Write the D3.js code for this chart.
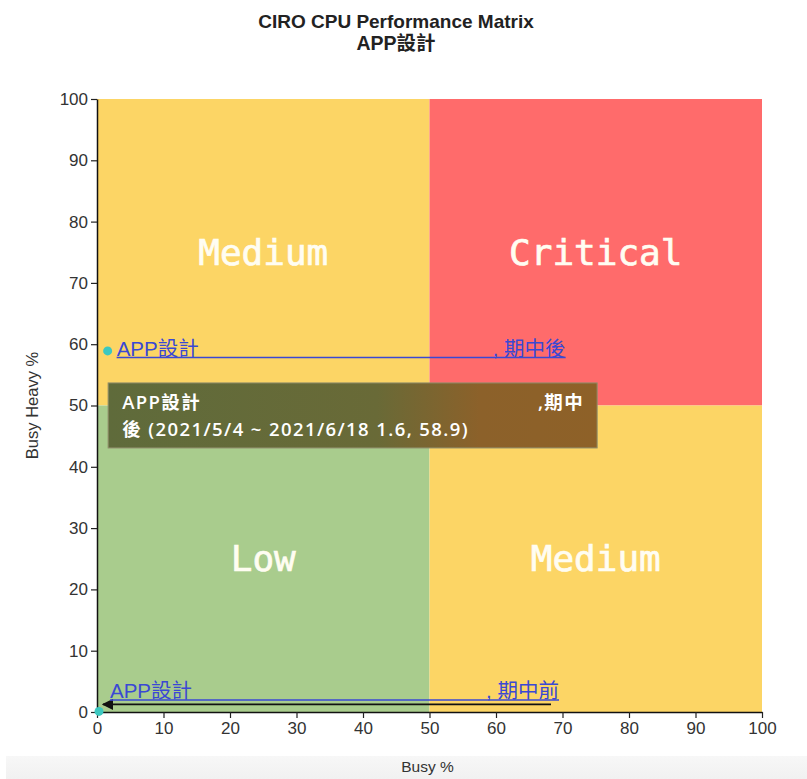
<!DOCTYPE html>
<html>
<head>
<meta charset="utf-8">
<script src="https://cdn.jsdelivr.net/npm/d3@7"></script>
<style>
  html, body { margin: 0; padding: 0; background: #fff; }
  svg { display: block; }
</style>
</head>
<body>
<div id="chart"></div>
<script>
// Chart content
const chartTitle = "CIRO CPU Performance Matrix";
const chartSubtitle = "APP設計";
const xLabel = "Busy %";
const yLabel = "Busy Heavy %";
const xTicks = [0, 10, 20, 30, 40, 50, 60, 70, 80, 90, 100];
const yTicks = [0, 10, 20, 30, 40, 50, 60, 70, 80, 90, 100];

// Quadrant zones: [x0, x1, y0, y1], name, colour
const zoneNames = ["Medium", "Critical", "Low", "Medium"];
const zoneX0 = [0, 50, 0, 50];
const zoneX1 = [50, 100, 50, 100];
const zoneY0 = [50, 50, 0, 0];
const zoneY1 = [100, 100, 50, 50];
const zoneColors = ["#fcd565", "#ff6b6b", "#a9cc8d", "#fcd565"];

// Measured periods for the project
const pointNames = ["APP設計", "APP設計"];
const pointPhases = ["期中前", "期中後"];
const pointPeriods = ["", "2021/5/4 ~ 2021/6/18"];
const busy = [0.3, 1.6];
const busyHeavy = [0.1, 58.9];

const W = 807, H = 779;
const margin = { top: 99, right: 45, bottom: 67, left: 97 };
const iw = W - margin.left - margin.right;
const ih = H - margin.top - margin.bottom;
const sans = "'Liberation Sans', Arial, sans-serif";
const sansCJK = "'Liberation Sans', 'Noto Sans CJK TC', sans-serif";

const svg = d3.select("#chart").append("svg")
  .attr("width", W).attr("height", H);

const defs = svg.append("defs");
defs.append("marker")
  .attr("id", "arrow")
  .attr("viewBox", "0 0 10 10")
  .attr("refX", 9).attr("refY", 5)
  .attr("markerWidth", 7).attr("markerHeight", 7)
  .attr("orient", "auto")
  .append("path").attr("d", "M0,0L10,5L0,10Z").attr("fill", "#111");

const tipGrad = defs.append("linearGradient").attr("id", "tipGrad")
  .attr("x1", "0%").attr("x2", "100%").attr("y1", "0%").attr("y2", "0%");
tipGrad.append("stop").attr("offset", "0%").attr("stop-color", "#5f6b3b");
tipGrad.append("stop").attr("offset", "55%").attr("stop-color", "#696a37");
tipGrad.append("stop").attr("offset", "76%").attr("stop-color", "#8c612a");
tipGrad.append("stop").attr("offset", "100%").attr("stop-color", "#8e6128");

// Light footer strip
const footGrad = defs.append("linearGradient").attr("id", "footGrad")
  .attr("x1", "0%").attr("x2", "0%").attr("y1", "0%").attr("y2", "100%");
footGrad.append("stop").attr("offset", "0%").attr("stop-color", "#f7f7f7");
footGrad.append("stop").attr("offset", "100%").attr("stop-color", "#f1f1f1");
svg.append("rect")
  .attr("x", 6).attr("y", 756).attr("width", W - 6).attr("height", H - 756)
  .attr("fill", "url(#footGrad)");

const g = svg.append("g").attr("transform", `translate(${margin.left},${margin.top})`);

const x = d3.scaleLinear().domain([0, 100]).range([0, iw]);
const y = d3.scaleLinear().domain([0, 100]).range([ih, 0]);

// Quadrants
const zones = zoneNames.map((n, i) => ({
  name: n, x0: zoneX0[i], x1: zoneX1[i], y0: zoneY0[i], y1: zoneY1[i], color: zoneColors[i]
}));
g.selectAll("rect.zone").data(zones).join("rect")
  .attr("class", "zone")
  .attr("x", d => x(d.x0)).attr("y", d => y(d.y1))
  .attr("width", d => x(d.x1) - x(d.x0))
  .attr("height", d => y(d.y0) - y(d.y1))
  .attr("fill", d => d.color);
g.selectAll("text.zone").data(zones).join("text")
  .attr("class", "zone")
  .attr("x", d => x((d.x0 + d.x1) / 2))
  .attr("y", d => y((d.y0 + d.y1) / 2))
  .attr("text-anchor", "middle")
  .attr("dominant-baseline", "central")
  .attr("font-family", "'DejaVu Sans Mono', monospace")
  .attr("font-size", 36)
  .attr("fill", "#fffdf2")
  .attr("stroke", "#fffdf2").attr("stroke-width", 0.7)
  .text(d => d.name);

// Axes
const xAxis = g.append("g").attr("transform", `translate(0,${ih})`)
  .call(d3.axisBottom(x).tickValues(xTicks).tickSizeOuter(0).tickPadding(4));
const yAxis = g.append("g")
  .call(d3.axisLeft(y).tickValues(yTicks).tickSizeOuter(0).tickPadding(3));
[xAxis, yAxis].forEach(a => {
  a.selectAll("text").attr("font-family", sans)
    .attr("font-size", 17).attr("fill", "#333");
  a.selectAll("line").attr("stroke", "#222").attr("stroke-width", 1.2);
  a.select(".domain").attr("stroke", "#111").attr("stroke-width", 1.5);
});

// Axis titles
svg.append("text")
  .attr("x", margin.left + iw / 2 - 2).attr("y", 772)
  .attr("text-anchor", "middle")
  .attr("font-family", sans)
  .attr("font-size", 15.5).attr("fill", "#333")
  .text(xLabel);
svg.append("text")
  .attr("transform", `translate(38,${margin.top + ih / 2}) rotate(-90)`)
  .attr("text-anchor", "middle")
  .attr("font-family", sans)
  .attr("font-size", 16.5).attr("fill", "#333")
  .text(yLabel);

// Titles
svg.append("text")
  .attr("x", 396).attr("y", 28).attr("text-anchor", "middle")
  .attr("font-family", sans)
  .attr("font-size", 19).attr("font-weight", "bold").attr("fill", "#222")
  .text(chartTitle);
svg.append("text")
  .attr("x", 396).attr("y", 50).attr("text-anchor", "middle")
  .attr("font-family", sansCJK)
  .attr("font-size", 19.5).attr("font-weight", "bold").attr("fill", "#222")
  .text(chartSubtitle);

// Points and their link labels
const points = pointNames.map((n, i) => ({
  name: n, phase: pointPhases[i], period: pointPeriods[i], bx: busy[i], by: busyHeavy[i]
}));
const labelWidth = 449;
const linkBlue = "#3a48d4";

points.forEach(p => {
  const px = x(p.bx), py = y(p.by);
  const low = p.by < 5;
  const lx = px + (low ? 11 : 9);
  const baseline = low ? py - 13 : py + 5;
  const lg = g.append("g");

  if (low) {
    // connector from label back to the point
    lg.append("line")
      .attr("x1", lx + labelWidth - 8).attr("y1", py - 7)
      .attr("x2", px + 4).attr("y2", py - 7)
      .attr("stroke", "#111").attr("stroke-width", 1.6)
      .attr("marker-end", "url(#arrow)");
  }
  lg.append("text")
    .attr("x", lx).attr("y", baseline)
    .attr("font-family", sansCJK)
    .attr("font-size", 20.5).attr("fill", linkBlue)
    .text(p.name);
  lg.append("text")
    .attr("x", lx + labelWidth).attr("y", baseline)
    .attr("text-anchor", "end")
    .attr("font-family", sansCJK)
    .attr("font-size", 20.5).attr("fill", linkBlue)
    .text(", " + p.phase);
  lg.append("line")
    .attr("x1", lx).attr("x2", lx + labelWidth)
    .attr("y1", baseline + 1.5).attr("y2", baseline + 1.5)
    .attr("stroke", linkBlue).attr("stroke-width", 1.5);

  g.append("circle")
    .attr("cx", px).attr("cy", py).attr("r", 4.5)
    .attr("fill", "#3cc8c0");
});

// Tooltip for the latest period
const tp = points[1];
const tx = x(tp.bx) + 0.5, ty = y(tp.by) + 32;
const tipW = 489, tipH = 65;
const tip = g.append("g").attr("transform", `translate(${tx},${ty})`);
tip.append("rect")
  .attr("width", tipW).attr("height", tipH)
  .attr("fill", "url(#tipGrad)")
  .attr("stroke", "#8f8d6a").attr("stroke-width", 1);
const tipFont = "'Open Sans', 'Noto Sans CJK TC', sans-serif";
const tipText = sel => sel
  .attr("font-family", tipFont).attr("font-size", 18.5).attr("font-weight", 600)
  .attr("letter-spacing", 1.4)
  .attr("fill", "#fff");
tip.append("text").attr("x", 14).attr("y", 26)
  .call(tipText)
  .text(tp.name);
tip.append("text").attr("x", tipW - 13).attr("y", 26).attr("text-anchor", "end")
  .call(tipText)
  .text("," + tp.phase.slice(0, 2));
tip.append("text").attr("x", 14).attr("y", 53)
  .call(tipText)
  .text(`${tp.phase.slice(2)} (${tp.period} ${tp.bx}, ${tp.by})`);
</script>
</body>
</html>
